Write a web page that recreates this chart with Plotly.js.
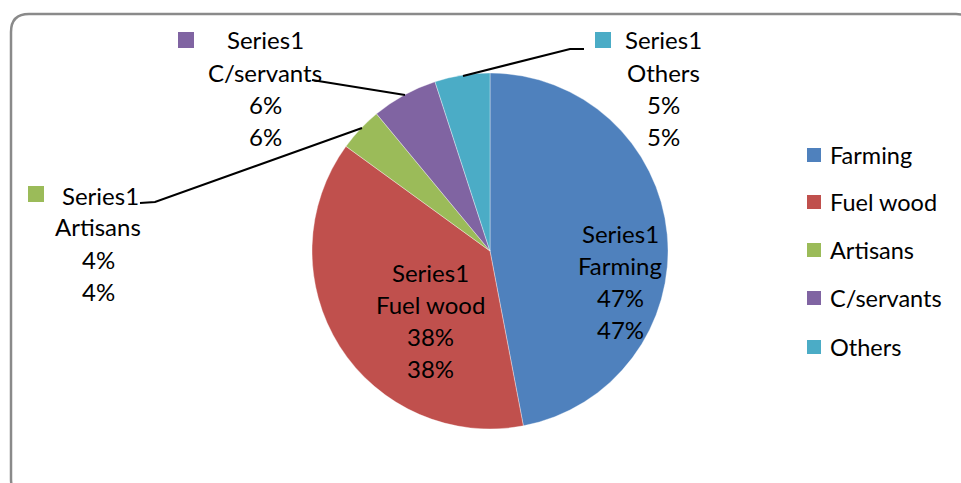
<!DOCTYPE html>
<html>
<head>
<meta charset="utf-8">
<script src="https://cdn.plot.ly/plotly-3.0.1.min.js"></script>
<style>
  html, body { margin: 0; padding: 0; background: #ffffff; }
  #chart { width: 961px; height: 483px; }
</style>
</head>
<body>
<div id="chart"></div>
<script>
// Occupation shares
const seriesName = 'Series1';
const categories = ['Farming', 'Fuel wood', 'Artisans', 'C/servants', 'Others'];
const values = [47, 38, 4, 6, 5];
const colors = ['#4F81BD', '#C0504D', '#9BBB59', '#8064A2', '#4BACC6'];

const W = 961, H = 483;
const FONT = 'Lato, "Open Sans", sans-serif';
const fx = x => x / W;          // pixel -> paper x
const fy = y => 1 - y / H;      // pixel -> paper y

const total = values.reduce((a, b) => a + b, 0);
const pct = values.map(v => Math.round(v / total * 100) + '%');

const pie = {
  type: 'pie',
  labels: categories,
  values: values,
  sort: false,
  direction: 'clockwise',
  rotation: 0,
  textinfo: 'none',
  hoverinfo: 'label+value+percent',
  marker: { colors: colors, line: { color: 'rgba(255,255,255,0.6)', width: 0.6 } },
  domain: { x: [fx(312), fx(668)], y: [fy(429), fy(73)] },
  showlegend: false
};

const annotations = [];
const shapes = [];

function txt(x, y, s, size) {
  annotations.push({
    xref: 'paper', yref: 'paper', x: fx(x), y: fy(y),
    xanchor: 'center', yanchor: 'middle', showarrow: false,
    text: s, font: { family: FONT, size: size || 24, color: '#000000' }
  });
}
function keyBox(x, y, i, size) {
  const s = size || 16;
  shapes.push({
    type: 'rect', xref: 'paper', yref: 'paper',
    x0: fx(x), x1: fx(x + s), y0: fy(y), y1: fy(y + s),
    fillcolor: colors[i], line: { width: 0 }
  });
}
function leader(pts) {
  let d = 'M ' + pts.map(p => fx(p[0]) + ',' + fy(p[1])).join(' L ');
  shapes.push({ type: 'path', xref: 'paper', yref: 'paper', path: d,
    line: { color: '#000000', width: 2 } });
}

// Data labels: series name, category, percentage (twice)
const labelPos = [
  { cx: 620, y: 233, key: null },          // Farming (inside)
  { cx: 430, y: 272, key: null },          // Fuel wood (inside)
  { cx: 98,  y: 195, key: [28, 186], nx: 100 },   // Artisans
  { cx: 265, y: 40,  key: [178, 32], nx: 265 },   // C/servants
  { cx: 663, y: 40,  key: [595, 32], nx: 663 }    // Others
];
labelPos.forEach((p, i) => {
  const nx = p.nx !== undefined ? p.nx : p.cx;
  txt(nx, p.y, seriesName);
  txt(p.cx, p.y + 32, categories[i]);
  txt(p.cx, p.y + 64, pct[i]);
  txt(p.cx, p.y + 96, pct[i]);
  if (p.key) keyBox(p.key[0], p.key[1], i);
});

// Leader lines for the small slices
leader([[140, 203], [155, 202], [362, 128]]);
leader([[312, 80], [405, 95]]);
leader([[463, 76], [570, 49], [584, 49]]);

// Legend
const legY = [155, 202, 250, 298, 347];
categories.forEach((c, i) => {
  keyBox(807, legY[i] - 7, i, 14);
  annotations.push({
    xref: 'paper', yref: 'paper', x: fx(828), y: fy(legY[i]),
    xanchor: 'left', yanchor: 'middle', showarrow: false,
    text: c, font: { family: FONT, size: 23.5, color: '#000000' }
  });
});

// Chart area border (rounded corners, partly outside the view)
(function () {
  const L = 11, T = 14, R = 974, B = 497, r = 18;
  const P = (x, y) => fx(x) + ',' + fy(y);
  const d = 'M ' + P(L + r, T) + ' L ' + P(R - r, T) + ' Q ' + P(R, T) + ' ' + P(R, T + r) +
    ' L ' + P(R, B - r) + ' Q ' + P(R, B) + ' ' + P(R - r, B) +
    ' L ' + P(L + r, B) + ' Q ' + P(L, B) + ' ' + P(L, B - r) +
    ' L ' + P(L, T + r) + ' Q ' + P(L, T) + ' ' + P(L + r, T) + ' Z';
  shapes.push({ type: 'path', xref: 'paper', yref: 'paper', path: d,
    line: { color: '#8a8a8a', width: 2.5 }, layer: 'below' });
})();

const layout = {
  width: W, height: H,
  margin: { l: 0, r: 0, t: 0, b: 0 },
  paper_bgcolor: '#ffffff',
  showlegend: false,
  annotations: annotations,
  shapes: shapes
};

Plotly.newPlot('chart', [pie], layout, { displayModeBar: false, staticPlot: true });
</script>
</body>
</html>
